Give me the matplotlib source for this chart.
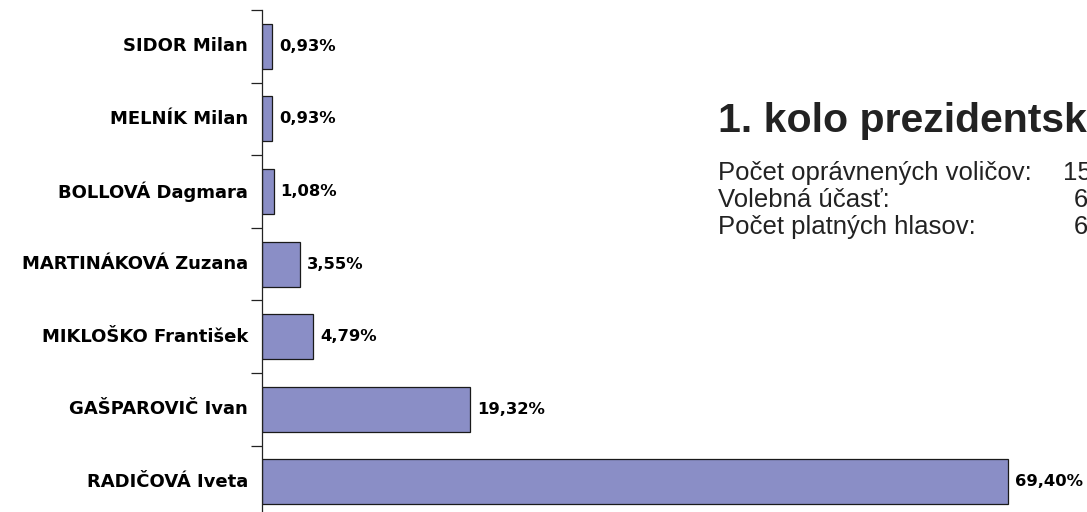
"""1. kolo prezidentskych volieb - horizontal bar chart."""

import matplotlib
matplotlib.use('Agg')
import matplotlib.pyplot as plt
from matplotlib.ticker import FixedLocator, NullFormatter

# data (bottom to top)
candidates = ['RADIČOVÁ Iveta', 'GAŠPAROVIČ Ivan', 'MIKLOŠKO František',
              'MARTINÁKOVÁ Zuzana', 'BOLLOVÁ Dagmara', 'MELNÍK Milan',
              'SIDOR Milan']
shares = [69.40, 19.32, 4.79, 3.55, 1.08, 0.93, 0.93]
share_labels = ['69,40%', '19,32%', '4,79%', '3,55%', '1,08%', '0,93%', '0,93%']

title = '1. kolo prezidentských volieb'
info_names = ['Počet oprávnených voličov:', 'Volebná účasť:', 'Počet platných hlasov:']
info_values = ['15', '6', '6']

W, H = 1087, 512
fig = plt.figure(figsize=(W / 100, H / 100), dpi=100)
fig.patch.set_facecolor('white')

# axes: left spine at x=262, top at y=10, band of ~72.6 px per candidate
band = 72.6
ax_left = 262 / W
ax_top = 1 - 10 / H
ax_h = 7 * band / H
ax = fig.add_axes([ax_left, ax_top - ax_h, 1 - ax_left, ax_h])
ax.set_facecolor('none')

ypos = list(range(len(candidates)))
ax.barh(ypos, shares, height=0.62, color='#8a8ec6', edgecolor='#1a1a1a',
        linewidth=0.9, zorder=2)
px_per_pct = 10.75
ax.set_xlim(0, (W - 262) / px_per_pct)
ax.set_ylim(-0.5, len(candidates) - 0.5)

for sp in ['top', 'right', 'bottom']:
    ax.spines[sp].set_visible(False)
ax.spines['left'].set_color('#222222')
ax.spines['left'].set_linewidth(0.9)
ax.set_xticks([])

# ticks at category boundaries, names as plain text
ax.yaxis.set_major_locator(FixedLocator([i - 0.5 for i in range(len(candidates) + 1)]))
ax.yaxis.set_major_formatter(NullFormatter())
ax.tick_params(axis='y', length=8, width=0.9, color='#222222', direction='out')

name_font = dict(family='DejaVu Sans', weight='bold', size=13, color='black')
value_font = dict(family='DejaVu Sans', weight='bold', size=11.8, color='black')
for y, name in zip(ypos, candidates):
    ax.annotate(name, xy=(0, y), xytext=(-14, 0), textcoords='offset pixels',
                ha='right', va='center', **name_font)
for y, val, lab in zip(ypos, shares, share_labels):
    ax.annotate(lab, xy=(val, y), xytext=(7, 0), textcoords='offset pixels',
                ha='left', va='center', **value_font)

# heading and summary text on the right (cut by the right edge as in the source)
fig.text(718 / W, 1 - 132 / H, title, ha='left', va='baseline',
         family='Liberation Sans', weight='bold', size=29.5, color='#222222')
row_base = [180, 207, 234]
for yb, name in zip(row_base, info_names):
    fig.text(718 / W, 1 - yb / H, name, ha='left', va='baseline',
             family='Liberation Sans', size=18.5, color='#222222')
for yb, val, x0 in zip(row_base, info_values, [1063, 1074, 1074]):
    fig.text(x0 / W, 1 - yb / H, val, ha='left', va='baseline',
             family='Liberation Sans', size=18.5, color='#222222')

fig.savefig('out.png', dpi=100, facecolor='white')
